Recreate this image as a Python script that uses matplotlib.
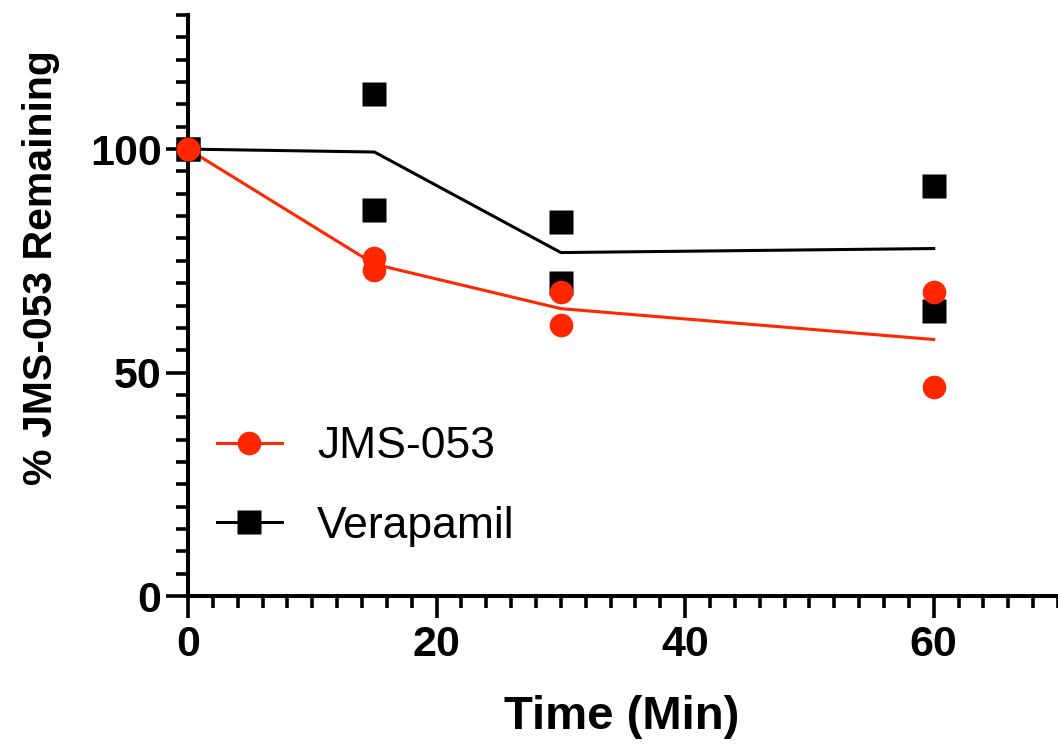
import numpy as np
import matplotlib.pyplot as plt
from matplotlib.lines import Line2D
from matplotlib.ticker import MultipleLocator

plt.rcParams['font.family'] = ['Liberation Sans', 'DejaVu Sans']

# data (two replicates per time point)
time = [0, 15, 30, 60]
jms_rep1 = [100, 75.6, 68.0, 68.0]
jms_rep2 = [100, 72.9, 60.6, 46.8]
ver_rep1 = [100, 112.3, 83.7, 91.7]
ver_rep2 = [100, 86.4, 70.0, 63.8]

red = '#ff2600'

jms_mean = (np.array(jms_rep1) + np.array(jms_rep2)) / 2
ver_mean = (np.array(ver_rep1) + np.array(ver_rep2)) / 2

fig = plt.figure(figsize=(10.58, 7.48), dpi=100)
ax = fig.add_axes([0.1777, 0.2032, 0.8223, 0.7767])

# mean lines
ax.plot(time, ver_mean, color='black', lw=2.2, zorder=2, clip_on=False)
ax.plot(time, jms_mean, color=red, lw=2.2, zorder=3, clip_on=False)

# replicate points
for rep in (ver_rep1, ver_rep2):
    ax.plot(time, rep, ls='none', marker='s', ms=17, color='black',
            mec='none', zorder=4, clip_on=False)
for rep in (jms_rep1, jms_rep2):
    ax.plot(time, rep, ls='none', marker='o', ms=17, color=red,
            mec='none', zorder=5, clip_on=False)

ax.set_xlim(0, 70)
ax.set_ylim(0, 130)
ax.xaxis.set_major_locator(MultipleLocator(20))
ax.xaxis.set_minor_locator(MultipleLocator(2))
ax.yaxis.set_major_locator(MultipleLocator(50))
ax.yaxis.set_minor_locator(MultipleLocator(5))

for s in ['top', 'right']:
    ax.spines[s].set_visible(False)
for s in ['left', 'bottom']:
    ax.spines[s].set_linewidth(2.9)
ax.tick_params(which='major', length=16, width=2.6, labelsize=31)
ax.tick_params(axis='x', which='major', pad=5)
ax.tick_params(axis='y', which='major', pad=3)
ax.tick_params(which='minor', length=8.5, width=2.6)
for lab in ax.get_xticklabels() + ax.get_yticklabels():
    lab.set_fontweight('bold')

ax.set_xlabel('Time (Min)', fontsize=34, fontweight='bold')
ax.xaxis.set_label_coords(0.499, -0.17)
ax.set_ylabel('% JMS-053 Remaining', fontsize=29.5, fontweight='bold')
ax.yaxis.set_label_coords(-0.147, 0.566)

handles = [
    Line2D([], [], color=red, lw=2.2, marker='o', ms=17, mec='none'),
    Line2D([], [], color='black', lw=2.2, marker='s', ms=17, mec='none'),
]
ax.legend(handles, ['JMS-053', 'Verapamil'], loc='center left',
          bbox_to_anchor=(0.033, 0.1885), frameon=False, fontsize=32,
          handlelength=1.47, handletextpad=0.79, labelspacing=0.86,
          borderpad=0, borderaxespad=0)

fig.savefig('out.png', dpi=100)
